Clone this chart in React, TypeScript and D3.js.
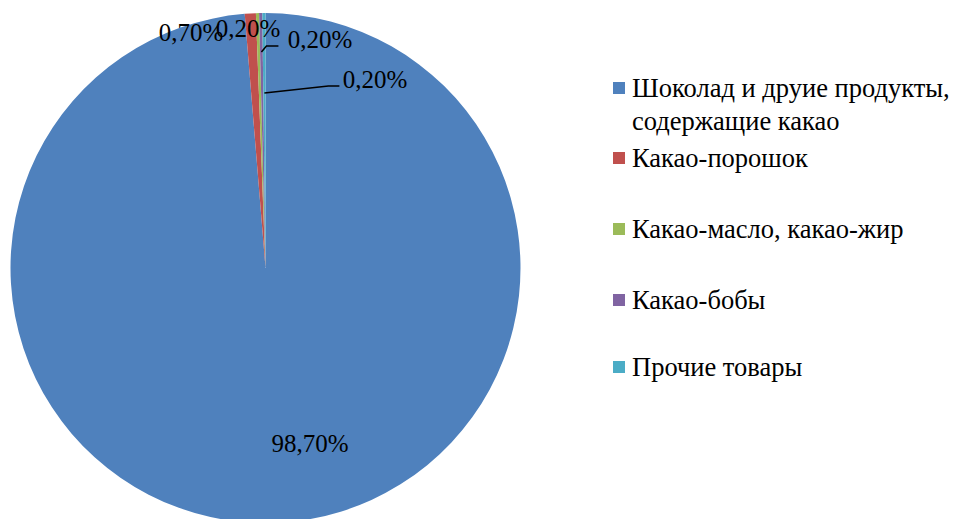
import * as d3 from "d3";

// Chart data
const categories = [
  "Шоколад и друие продукты, содержащие какао",
  "Какао-порошок",
  "Какао-масло, какао-жир",
  "Какао-бобы",
  "Прочие товары",
];
const shares = [98.7, 0.7, 0.2, 0.2, 0.2];
const legendLines = [
  ["Шоколад и друие продукты,", "содержащие какао"],
  ["Какао-порошок"],
  ["Какао-масло, какао-жир"],
  ["Какао-бобы"],
  ["Прочие товары"],
];
const colors = ["#4F81BD", "#C0504D", "#9BBB59", "#8064A2", "#4BACC6"];

const W = 956;
const H = 519;
const cx = 265.5;
const cy = 268;
const radius = 255;
const font = "'Liberation Serif', 'Times New Roman', serif";

// label placement (Excel puts the tiny slices' labels by hand)
const labelPlace = [
  { x: 191, y: 32 },
  { x: 248, y: 28 },
  { x: 320, y: 39 },
  { x: 375, y: 79 },
];
const bigLabel = { x: 310, y: 443 };

const fmt = (v: number) => v.toFixed(2).replace(".", ",") + "%";

export default function App() {
  const data = categories.map((name, i) => ({ name, value: shares[i], color: colors[i] }));
  const pie = d3
    .pie<{ name: string; value: number; color: string }>()
    .value((d) => d.value)
    .sort(null);
  const arcs = pie(data);
  const arc = d3.arc<d3.PieArcDatum<any>>().innerRadius(0).outerRadius(radius);

  const pointAt = (a: d3.PieArcDatum<any>, r: number) => {
    const mid = (a.startAngle + a.endAngle) / 2;
    return [Math.sin(mid) * r, -Math.cos(mid) * r];
  };

  // leader lines for the purple and cyan slices
  const [px, py] = pointAt(arcs[3], 216);
  const purpleLeader = d3.line()([
    [cx + px, cy + py],
    [cx + px + 5, cy + py - 6],
    [cx + px + 17, cy + py - 6],
  ]);
  const [qx, qy] = pointAt(arcs[4], 175);
  const cyanLeader = d3.line()([
    [cx + qx, cy + qy],
    [cx + qx + 64, cy + qy - 7],
    [cx + qx + 75, cy + qy - 7],
  ]);

  const legendX = 613;
  const legendRows = [88, 158, 229, 300, 367];

  return (
    <svg
      width={W}
      height={H}
      style={{ position: "absolute", left: 0, top: 0, background: "#fff", fontFamily: font }}
    >
      <g transform={`translate(${cx},${cy})`}>
        {arcs.map((a, i) => (
          <path key={i} d={arc(a) || ""} fill={a.data.color} />
        ))}
      </g>
      <path d={purpleLeader || ""} fill="none" stroke="#000" strokeWidth={1.5} />
      <path d={cyanLeader || ""} fill="none" stroke="#000" strokeWidth={1.5} />
      {arcs.map((a, i) => {
        const p = i === 0 ? bigLabel : labelPlace[i - 1];
        return (
          <text
            key={i}
            x={p.x}
            y={p.y}
            textAnchor="middle"
            dominantBaseline="central"
            fontSize={25}
            fill="#000"
          >
            {fmt(a.data.value)}
          </text>
        );
      })}
      {legendLines.map((lines, i) => (
        <g key={i} transform={`translate(${legendX},${legendRows[i]})`}>
          <rect x={0} y={-6} width={12} height={12} fill={colors[i]} />
          {lines.map((t, j) => (
            <text
              key={j}
              x={19}
              y={j * 33}
              dominantBaseline="central"
              fontSize={26.5}
              fill="#000"
            >
              {t}
            </text>
          ))}
        </g>
      ))}
    </svg>
  );
}
